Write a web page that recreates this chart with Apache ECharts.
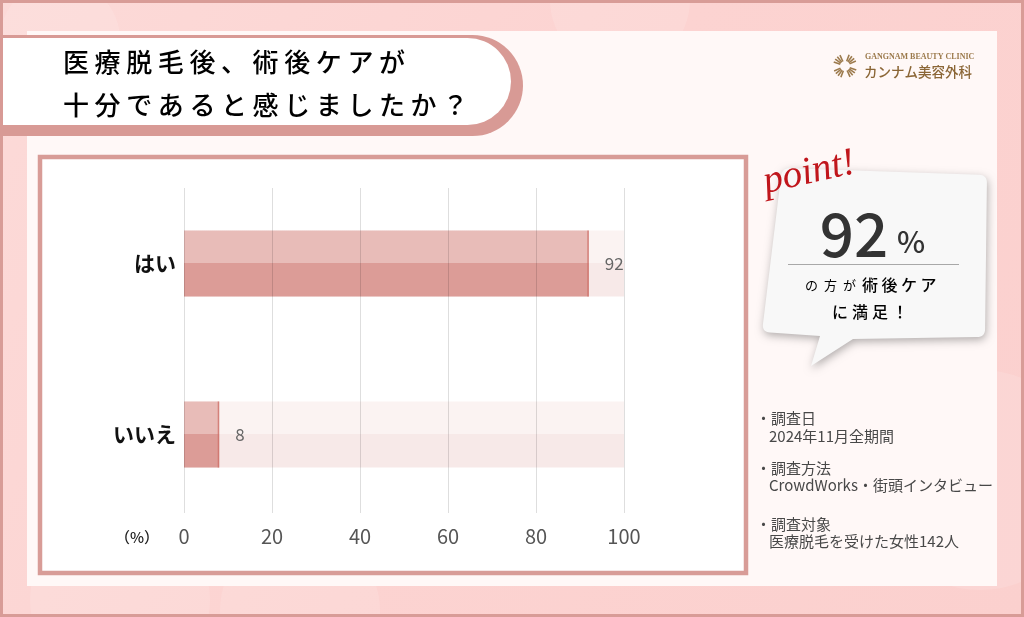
<!DOCTYPE html>
<html><head><meta charset="utf-8">
<script src="https://cdn.jsdelivr.net/npm/echarts@6/dist/echarts.min.js"></script>
<style>html,body{margin:0;padding:0;background:#fcd5d3}#c{width:1024px;height:617px}</style>
</head><body><div id="c"></div>
<script>
// ---- data ----
const categories = ['はい', 'いいえ'];
const values = [92, 8];
const axisMin = 0, axisMax = 100, axisStep = 20;
const titleLines = ['医療脱毛後、術後ケアが', '十分であると感じましたか？'];
const pointValue = '92';
const pointText1a = 'の方が', pointText1b = '術後ケア', pointText2 = 'に満足！';
const notes = [
  ['・調査日', '2024年11月全期間'],
  ['・調査方法', 'CrowdWorks・街頭インタビュー'],
  ['・調査対象', '医療脱毛を受けた女性142人']
];
const logoEn = 'GANGNAM BEAUTY CLINIC', logoJp = 'カンナム美容外科';

const JP = "'Noto Sans CJK JP', 'Noto Sans', sans-serif";
function tracked(str, key) { return str.split('').map(c => '{' + key + '|' + c + '}').join(''); }
function vgrad(a, b) {
  return {type: 'linear', x: 0, y: 0, x2: 0, y2: 1,
    colorStops: [{offset: 0, color: a}, {offset: 0.5, color: a}, {offset: 0.5, color: b}, {offset: 1, color: b}]};
}
function roundedPoly(pts) {
  const out = [];
  const n = pts.length;
  for (let i = 0; i < n; i++) {
    const p = pts[i], a = pts[(i - 1 + n) % n], b = pts[(i + 1) % n];
    const r = p[2] || 0;
    if (!r) { out.push([p[0], p[1]]); continue; }
    const da = Math.hypot(a[0] - p[0], a[1] - p[1]), db = Math.hypot(b[0] - p[0], b[1] - p[1]);
    const s = [p[0] + (a[0] - p[0]) * r / da, p[1] + (a[1] - p[1]) * r / da];
    const e = [p[0] + (b[0] - p[0]) * r / db, p[1] + (b[1] - p[1]) * r / db];
    for (let t = 0; t <= 1.0001; t += 0.125) {
      const u = 1 - t;
      out.push([u * u * s[0] + 2 * u * t * p[0] + t * t * e[0], u * u * s[1] + 2 * u * t * p[1] + t * t * e[1]]);
    }
  }
  return out;
}

const chart = echarts.init(document.getElementById('c'));
let zi = 0;
function bg(el) { el.z = -10; el.z2 = zi++; return el; }

const elements = [];
// outer background
elements.push(bg({type: 'rect', shape: {x: 0, y: 0, width: 1024, height: 617},
  style: {fill: {type: 'linear', x: 0, y: 0, x2: 1, y2: 1, colorStops: [{offset: 0, color: '#fcdad8'}, {offset: 0.5, color: '#fcd3d1'}, {offset: 1, color: '#fbd0ce'}]}}}));
[[120, 600, 90], [620, 0, 70], [980, 480, 110], [60, 40, 60], [300, 610, 80]].forEach(p => {
  elements.push(bg({type: 'circle', shape: {cx: p[0], cy: p[1], r: p[2]}, style: {fill: 'rgba(255,255,255,0.12)'}}));
});
elements.push(bg({type: 'rect', shape: {x: 1.5, y: 1.5, width: 1021, height: 614}, style: {fill: null, stroke: '#d89c97', lineWidth: 3}}));
// inner panel
elements.push(bg({type: 'rect', shape: {x: 27, y: 31, width: 970, height: 555}, style: {fill: '#fff8f7'}}));
// title box
elements.push(bg({type: 'rect', shape: {x: 0, y: 35, width: 523, height: 101, r: [0, 52, 52, 0]}, style: {fill: '#d89a95'}}));
elements.push(bg({type: 'rect', shape: {x: 3, y: 38, width: 508, height: 87, r: [0, 44, 44, 0]}, style: {fill: '#ffffff'}}));
titleLines.forEach((t, i) => {
  elements.push(bg({type: 'text', x: 63, y: i === 0 ? 62 : 105, style: {
    text: tracked(t, 'a'), textVerticalAlign: 'middle',
    rich: {a: {width: 31.6, align: 'left', fontSize: 26, fontWeight: 500, fontFamily: JP, color: '#474747'}}
  }}));
});
// logo
(function () {
  const cx = 845, cy = 66, col = '#9c7a4c';
  for (let k = 0; k < 4; k++) {
    for (let j = 0; j < 4; j++) {
      const ang = (k * 90 + 20 + j * 15) * Math.PI / 180;
      const r1 = 5, r2 = 12;
      elements.push(bg({type: 'line', shape: {x1: cx + Math.cos(ang) * r1, y1: cy + Math.sin(ang) * r1, x2: cx + Math.cos(ang) * r2, y2: cy + Math.sin(ang) * r2},
        style: {stroke: col, lineWidth: 1.6}}));
    }
  }
  elements.push(bg({type: 'text', x: 865, y: 57, style: {text: logoEn, fontSize: 8, fontWeight: 'bold', fontFamily: "'Liberation Serif', serif", fill: col, textVerticalAlign: 'middle'}}));
  elements.push(bg({type: 'text', x: 864, y: 72, style: {text: logoJp, fontSize: 13.5, fontWeight: 500, fontFamily: JP, fill: '#8b6636', textVerticalAlign: 'middle'}}));
})();
// chart frame
elements.push(bg({type: 'rect', shape: {x: 40, y: 157, width: 706, height: 416}, style: {fill: '#ffffff', stroke: '#d89c97', lineWidth: 4.5}}));
// (%) label
elements.push(bg({type: 'text', x: 137, y: 537, style: {text: '（%）', fontSize: 15, fontWeight: 500, fontFamily: JP, fill: '#222', textAlign: 'center', textVerticalAlign: 'middle'}}));
// callout bubble
const bubble = roundedPoly([[782, 168, 8], [987, 175, 8], [985, 337, 8], [853, 339, 0], [811, 366, 0], [820, 336, 0], [762, 332, 8]]);
elements.push(bg({type: 'polygon', shape: {points: bubble},
  style: {fill: '#f8f8f8', shadowBlur: 9, shadowColor: 'rgba(0,0,0,0.3)', shadowOffsetX: 1, shadowOffsetY: 3}}));
elements.push(bg({type: 'text', x: 768, y: 202, rotation: 0.22, style: {text: 'point!', fontSize: 39, fontStyle: 'italic', fontFamily: "'Liberation Serif', serif", fill: '#c0161c', textVerticalAlign: 'bottom'}}));
elements.push(bg({type: 'text', x: 854, y: 234, style: {text: pointValue, fontSize: 60, fontWeight: 500, fontFamily: JP, fill: '#333', textAlign: 'center', textVerticalAlign: 'middle'}}));
elements.push(bg({type: 'text', x: 897, y: 257, style: {text: '%', fontSize: 30, fontWeight: 500, fontFamily: JP, fill: '#333', textVerticalAlign: 'bottom'}}));
elements.push(bg({type: 'line', shape: {x1: 788, y1: 264.5, x2: 959, y2: 264.5}, style: {stroke: '#a8a8a8', lineWidth: 1}}));
elements.push(bg({type: 'text', x: 805, y: 285, style: {
  text: tracked(pointText1a, 's') + tracked(pointText1b, 'b'), textVerticalAlign: 'middle',
  rich: {s: {width: 19, fontSize: 13, fontFamily: JP, color: '#555'}, b: {width: 19.5, fontSize: 16, fontWeight: 500, fontFamily: JP, color: '#444'}}
}}));
elements.push(bg({type: 'text', x: 832, y: 312, style: {
  text: tracked(pointText2, 'b'), textVerticalAlign: 'middle',
  rich: {b: {width: 20, fontSize: 16, fontWeight: 500, fontFamily: JP, color: '#444'}}
}}));
// notes
const noteY = [[418, 436], [468, 485], [524, 541]];
notes.forEach((n, i) => {
  elements.push(bg({type: 'text', x: 756, y: noteY[i][0], style: {text: n[0], fontSize: 15, fontFamily: JP, fill: '#484848', textVerticalAlign: 'middle'}}));
  elements.push(bg({type: 'text', x: 769, y: noteY[i][1], style: {text: n[1], fontSize: 15, fontFamily: JP, fill: '#484848', textVerticalAlign: 'middle'}}));
});

const option = {
  animation: false,
  graphic: {elements: elements},
  grid: [
    {left: 184, right: 400, top: 178, bottom: 97},
    {left: 184, right: 400, top: 188, bottom: 104}
  ],
  xAxis: [
    {gridIndex: 0, type: 'value', min: axisMin, max: axisMax, interval: axisStep, show: false},
    {gridIndex: 1, type: 'value', min: axisMin, max: axisMax, interval: axisStep, z: 5,
      axisLine: {show: false}, axisTick: {show: false},
      axisLabel: {margin: 13, fontSize: 20, color: '#555', fontFamily: JP},
      splitLine: {show: true, lineStyle: {color: 'rgba(0,0,0,0.13)', width: 1}}}
  ],
  yAxis: [
    {gridIndex: 0, type: 'category', inverse: true, data: categories,
      axisLine: {show: false}, axisTick: {show: false}, splitLine: {show: false},
      axisLabel: {margin: 8, fontSize: 21, fontWeight: 'bold', color: '#111', fontFamily: JP}},
    {gridIndex: 1, type: 'value', min: 0, max: 1, show: false}
  ],
  series: [{
    type: 'bar', xAxisIndex: 0, yAxisIndex: 0, data: values, barWidth: 66,
    showBackground: true,
    backgroundStyle: {color: vgrad('#fbf3f2', '#f7e9e8')},
    itemStyle: {color: vgrad('#e8bcb8', '#dc9c97')},
    label: {show: true, position: 'right', distance: 16, fontSize: 17, color: '#666', fontFamily: JP}
  }, {
    // thin darker edge at the end of each bar
    type: 'custom', xAxisIndex: 0, yAxisIndex: 0, z: 3, silent: true,
    data: values.map((v, i) => [v, i]),
    renderItem: function (params, api) {
      const p = api.coord([api.value(0), api.value(1)]);
      return {type: 'rect', shape: {x: p[0] - 1.5, y: p[1] - 33, width: 1.5, height: 66}, style: {fill: 'rgba(205,110,102,0.75)'}};
    }
  }]
};
chart.setOption(option);
</script></body></html>
